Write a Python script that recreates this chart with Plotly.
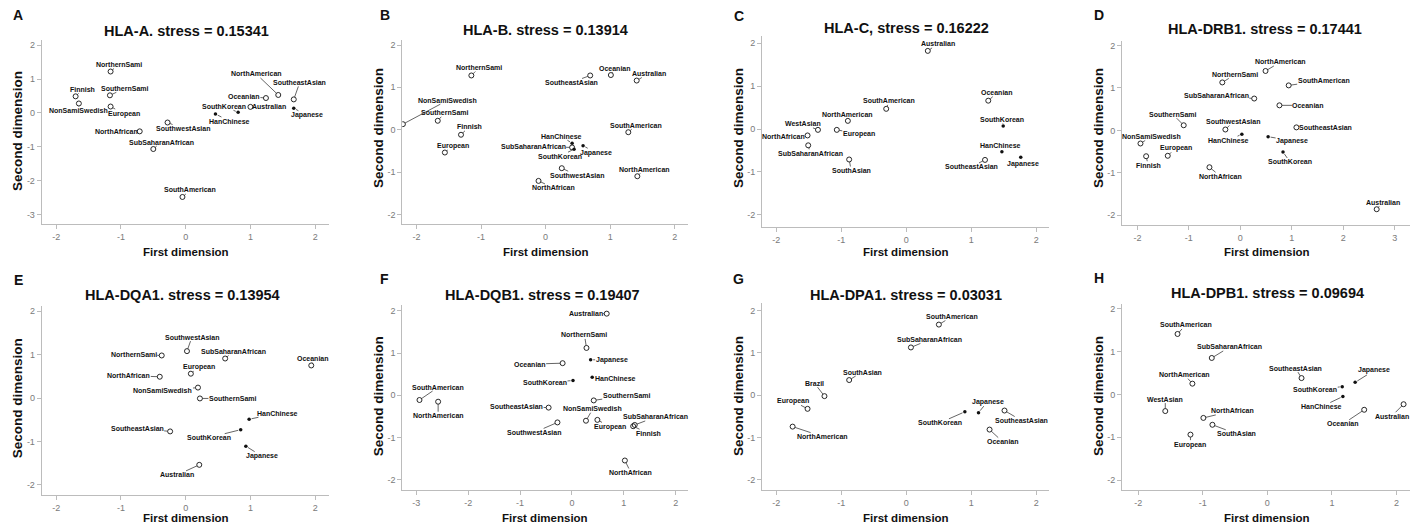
import plotly.graph_objects as go

W, H = 1416, 527
FONT = "Liberation Sans, Arial, sans-serif"

# ---------------- data ----------------
titles = ["HLA-A. stress = 0.15341", "HLA-B. stress = 0.13914", "HLA-C, stress = 0.16222",
          "HLA-DRB1. stress = 0.17441", "HLA-DQA1. stress = 0.13954", "HLA-DQB1. stress = 0.19407",
          "HLA-DPA1. stress = 0.03031", "HLA-DPB1. stress = 0.09694"]
panel_letters = ["A", "B", "C", "D", "E", "F", "G", "H"]
x_title = "First dimension"
y_title = "Second dimension"
filled_groups = ["HanChinese", "SouthKorean", "Japanese"]

A_names = ["NorthernSami", "Finnish", "SouthernSami", "NonSamiSwedish", "European", "NorthAfrican",
           "SouthwestAsian", "SubSaharanAfrican", "SouthAmerican", "HanChinese", "SouthKorean",
           "Oceanian", "Australian", "NorthAmerican", "SoutheastAsian", "Japanese"]
A_x = [-1.16, -1.70, -1.17, -1.65, -1.16, -0.71, -0.28, -0.50, -0.05, 0.46, 0.81, 1.24, 1.00, 1.43, 1.67, 1.67]
A_y = [1.22, 0.49, 0.52, 0.28, 0.19, -0.54, -0.28, -1.06, -2.47, -0.03, 0.02, 0.44, 0.18, 0.53, 0.40, 0.14]

B_names = ["NorthernSami", "SoutheastAsian", "Oceanian", "Australian", "NonSamiSwedish", "SouthernSami",
           "Finnish", "European", "HanChinese", "SubSaharanAfrican", "SouthKorean", "Japanese",
           "SouthAmerican", "SouthwestAsian", "NorthAfrican", "NorthAmerican"]
B_x = [-1.15, 0.69, 1.01, 1.41, -2.21, -1.67, -1.31, -1.56, 0.41, 0.41, 0.44, 0.58, 1.28, 0.25, -0.11, 1.42]
B_y = [1.28, 1.28, 1.29, 1.16, 0.13, 0.21, -0.12, -0.54, -0.32, -0.42, -0.46, -0.38, -0.06, -0.91, -1.21, -1.10]

C_names = ["Australian", "Oceanian", "SouthAmerican", "NorthAmerican", "WestAsian", "European",
           "NorthAfrican", "SubSaharanAfrican", "SouthAsian", "SouthKorean", "HanChinese", "Japanese",
           "SoutheastAsian"]
C_x = [0.33, 1.26, -0.31, -0.90, -1.36, -1.07, -1.52, -1.51, -0.88, 1.49, 1.47, 1.76, 1.21]
C_y = [1.82, 0.66, 0.47, 0.19, -0.02, -0.02, -0.15, -0.38, -0.71, 0.07, -0.53, -0.66, -0.72]

D_names = ["NorthAmerican", "NorthernSami", "SouthAmerican", "SubSaharanAfrican", "Oceanian", "SouthernSami",
           "SouthwestAsian", "HanChinese", "Japanese", "SoutheastAsian", "NonSamiSwedish", "European",
           "Finnish", "NorthAfrican", "SouthKorean", "Australian"]
D_x = [0.49, -0.35, 0.94, 0.27, 0.76, -1.10, -0.29, 0.03, 0.54, 1.09, -1.94, -1.41, -1.83, -0.60, 0.83, 2.65]
D_y = [1.40, 1.13, 1.06, 0.75, 0.59, 0.12, 0.02, -0.09, -0.15, 0.07, -0.31, -0.60, -0.61, -0.87, -0.51, -1.86]

E_names = ["SouthwestAsian", "NorthernSami", "SubSaharanAfrican", "Oceanian", "European", "NorthAfrican",
           "NonSamiSwedish", "SouthernSami", "HanChinese", "SoutheastAsian", "SouthKorean", "Japanese",
           "Australian"]
E_x = [0.02, -0.37, 0.61, 1.94, 0.08, -0.40, 0.19, 0.22, 0.98, -0.24, 0.85, 0.93, 0.21]
E_y = [1.08, 0.98, 0.91, 0.75, 0.56, 0.49, 0.24, -0.01, -0.49, -0.77, -0.73, -1.11, -1.54]

F_names = ["Australian", "NorthernSami", "Japanese", "Oceanian", "HanChinese", "SouthKorean",
           "SouthAmerican", "NorthAmerican", "SouthernSami", "SoutheastAsian", "NonSamiSwedish", "European",
           "SouthwestAsian", "SubSaharanAfrican", "Finnish", "NorthAfrican"]
F_x = [0.67, 0.28, 0.36, -0.18, 0.39, 0.02, -2.94, -2.58, 0.42, -0.45, 0.27, 0.49, -0.28, 1.21, 1.18, 1.02]
F_y = [1.93, 1.12, 0.84, 0.76, 0.43, 0.35, -0.11, -0.15, -0.12, -0.29, -0.60, -0.58, -0.64, -0.70, -0.73, -1.54]

G_names = ["SouthAmerican", "SubSaharanAfrican", "SouthAsian", "Brazil", "European", "NorthAmerican",
           "Japanese", "SouthKorean", "SoutheastAsian", "Oceanian"]
G_x = [0.50, 0.07, -0.88, -1.26, -1.52, -1.75, 1.11, 0.90, 1.51, 1.28]
G_y = [1.67, 1.13, 0.36, -0.02, -0.32, -0.74, -0.41, -0.39, -0.36, -0.81]

H_names = ["SouthAmerican", "SubSaharanAfrican", "NorthAmerican", "SoutheastAsian", "Japanese", "SouthKorean",
           "HanChinese", "WestAsian", "NorthAfrican", "SouthAsian", "European", "Oceanian", "Australian"]
H_x = [-1.39, -0.86, -1.16, 0.53, 1.36, 1.16, 1.17, -1.58, -0.99, -0.85, -1.19, 1.50, 2.11]
H_y = [1.41, 0.85, 0.25, 0.38, 0.28, 0.18, -0.05, -0.39, -0.55, -0.71, -0.94, -0.36, -0.23]

x_ticks = [[-2, -1, 0, 1, 2], [-2, -1, 0, 1, 2], [-2, -1, 0, 1, 2], [-2, -1, 0, 1, 2, 3],
           [-2, -1, 0, 1, 2], [-3, -2, -1, 0, 1, 2], [-2, -1, 0, 1, 2], [-2, -1, 0, 1, 2]]
y_ticks = [[-3, -2, -1, 0, 1, 2]] + [[-2, -1, 0, 1, 2]] * 7

# ---------------- label placement (pixel offsets of each label from its point) ----------------
A_off = [(8, -7), (7, -7), (15, -7), (0, 7), (13, 7), (-23, 0), (15, 6), (8, -7), (8, -7), (14, 7),
         (-14, -6), (-22, -2), (19, 0), (-22, -21), (6, -17), (13, 7)]
B_off = [(8, -8), (-19, 7), (4, -7), (12, -7), (45, -24), (7, -8), (8, -8), (8, -7), (-11, -7), (-39, -1),
         (-14, 7), (13, 7), (8, -7), (15, 7), (15, 7), (7, -7)]
C_off = [(10, -7), (9, -8), (3, -8), (0, -6), (-15, -6), (22, 4), (-24, 1), (2, 8), (2, 11), (-1, -7),
         (-1, -6), (2, 7), (-14, 7)]
D_off = [(15, -9), (13, -8), (35, -5), (-38, -3), (29, 0), (-11, -11), (8, -8), (-13, 6), (24, 4), (29, 0),
         (11, -7), (8, -8), (2, 9), (11, 9), (7, 10), (6, -7)]
E_off = [(5, -14), (-28, -1), (8, -7), (2, -7), (8, -7), (-31, -1), (-35, 3), (33, 0), (28, -6), (-33, -3),
         (-32, 8), (16, 10), (-22, 10)]
F_off = [(-21, 0), (-2, -13), (21, 0), (-33, 1), (23, 1), (-28, 2), (19, -13), (0, 14), (33, -5), (-32, -1),
         (7, -12), (13, 7), (-23, 10), (21, -8), (15, 7), (6, 12)]
G_off = [(13, -8), (19, -8), (13, -8), (-10, -13), (-15, -8), (30, 10), (9, -11), (-25, 11), (17, 10), (13, 12)]
H_off = [(8, -9), (18, -11), (-8, -9), (-6, -10), (19, -12), (-27, 3), (-21, 10), (0, -12), (29, -7), (24, 9),
         (0, 10), (-21, 14), (-12, 12)]

# plot-area boxes in pixels: left, right, top, bottom
boxes = [(41.7, 329, 40, 224), (402.3, 688.3, 40, 224), (762, 1048.7, 36, 226.7), (1122, 1410.3, 40.7, 225),
         (41.7, 329, 305.7, 495.3), (402.3, 688.3, 304.7, 490.3), (762, 1048.7, 303, 490.3),
         (1122, 1410.3, 303.7, 489.7)]
x_ranges = [(-2.224, 2.214), (-2.219, 2.209), (-2.221, 2.19), (-2.299, 3.303),
            (-2.224, 2.214), (-3.271, 2.243), (-2.221, 2.19), (-2.25, 2.214)]
y_ranges = [(-3.265, 2.147), (-2.228, 2.118), (-2.276, 2.167), (-2.232, 2.114),
            (-2.242, 2.127), (-2.244, 2.142), (-2.244, 2.18), (-2.226, 2.117)]
title_pos = [(186.7, 31), (545.7, 30), (906.3, 28.3), (1265, 29.3), (182.5, 295.3), (542.8, 295.3),
             (905.5, 295.3), (1267.5, 293)]
letter_pos = [(18.3, 15), (384.7, 15), (738.7, 16), (1098.7, 15), (18.3, 279.7), (384.7, 279),
              (738.7, 279), (1098.7, 278)]
xt_pos = [(185.7, 252.3), (546.3, 252), (906.3, 252.3), (1267, 252.3), (185.7, 517.5), (545, 517.5),
          (906.3, 517.5), (1267, 517.5)]
yt_pos = [(17.3, 130.7), (378, 128), (738.7, 128.3), (1098.7, 128.3), (17.3, 398), (378, 396.3),
          (738.7, 396.3), (1098.7, 396.3)]

panels = [(A_names, A_x, A_y, A_off), (B_names, B_x, B_y, B_off), (C_names, C_x, C_y, C_off),
          (D_names, D_x, D_y, D_off), (E_names, E_x, E_y, E_off), (F_names, F_x, F_y, F_off),
          (G_names, G_x, G_y, G_off), (H_names, H_x, H_y, H_off)]


def px(x):
    return x / W


def py(y):
    return 1 - y / H


fig = go.Figure()
annotations = []
layout = {}
AXIS_GRAY = "#bcbcbc"
TICK_FONT = dict(family=FONT, size=9, color="#7a7a7a")

for i, (names, xs, ys, offs) in enumerate(panels):
    sfx = "" if i == 0 else str(i + 1)
    xref, yref = "x" + sfx, "y" + sfx
    l, r, t, b = boxes[i]
    layout["xaxis" + sfx] = dict(domain=[px(l), px(r)], range=list(x_ranges[i]), anchor=yref,
                                 showline=True, linecolor=AXIS_GRAY, linewidth=1, showgrid=False,
                                 zeroline=False, ticks="outside", ticklen=4, tickcolor=AXIS_GRAY,
                                 tickvals=x_ticks[i], ticktext=[str(v) for v in x_ticks[i]],
                                 tickfont=TICK_FONT, fixedrange=True)
    layout["yaxis" + sfx] = dict(domain=[py(b), py(t)], range=list(y_ranges[i]), anchor=xref,
                                 showline=True, linecolor=AXIS_GRAY, linewidth=1, showgrid=False,
                                 zeroline=False, ticks="outside", ticklen=4, tickcolor=AXIS_GRAY,
                                 tickvals=y_ticks[i], ticktext=[str(v) for v in y_ticks[i]],
                                 tickfont=TICK_FONT, fixedrange=True)

    open_idx = [k for k, n in enumerate(names) if n not in filled_groups]
    fill_idx = [k for k, n in enumerate(names) if n in filled_groups]
    fig.add_trace(go.Scatter(x=[xs[k] for k in open_idx], y=[ys[k] for k in open_idx], mode="markers",
                             xaxis=xref, yaxis=yref, showlegend=False, hoverinfo="skip",
                             marker=dict(symbol="circle-open", size=5, color="#111",
                                         line=dict(width=0.9, color="#111"))))
    fig.add_trace(go.Scatter(x=[xs[k] for k in fill_idx], y=[ys[k] for k in fill_idx], mode="markers",
                             xaxis=xref, yaxis=yref, showlegend=False, hoverinfo="skip",
                             marker=dict(symbol="circle", size=3.5, color="#111")))

    for k, n in enumerate(names):
        dx, dy = offs[k]
        annotations.append(dict(x=xs[k], y=ys[k], xref=xref, yref=yref, text="<b>%s</b>" % n,
                                showarrow=True, ax=dx, ay=dy, arrowhead=0, arrowwidth=0.7,
                                arrowcolor="#222", standoff=2.5, borderpad=0,
                                font=dict(family=FONT, size=7, color="#111")))

    tx, ty = title_pos[i]
    annotations.append(dict(x=px(tx), y=py(ty), xref="paper", yref="paper", text="<b>%s</b>" % titles[i],
                            showarrow=False, xanchor="center", yanchor="middle",
                            font=dict(family=FONT, size=14.5, color="#111")))
    lx, ly = letter_pos[i]
    annotations.append(dict(x=px(lx), y=py(ly), xref="paper", yref="paper", text="<b>%s</b>" % panel_letters[i],
                            showarrow=False, xanchor="center", yanchor="middle",
                            font=dict(family=FONT, size=14, color="#111")))
    ax_, ay_ = xt_pos[i]
    annotations.append(dict(x=px(ax_), y=py(ay_), xref="paper", yref="paper", text="<b>%s</b>" % x_title,
                            showarrow=False, xanchor="center", yanchor="middle",
                            font=dict(family=FONT, size=11.5, color="#111")))
    bx, by = yt_pos[i]
    annotations.append(dict(x=px(bx), y=py(by), xref="paper", yref="paper", text="<b>%s</b>" % y_title,
                            showarrow=False, xanchor="center", yanchor="middle", textangle=-90,
                            font=dict(family=FONT, size=13.5, color="#111")))

fig.update_layout(width=W, height=H, margin=dict(l=0, r=0, t=0, b=0), plot_bgcolor="white",
                  paper_bgcolor="white", annotations=annotations, **layout)
fig.write_html("out.html", config={"displayModeBar": False},
               post_script="document.body.style.margin='0';document.body.style.overflow='hidden';")
